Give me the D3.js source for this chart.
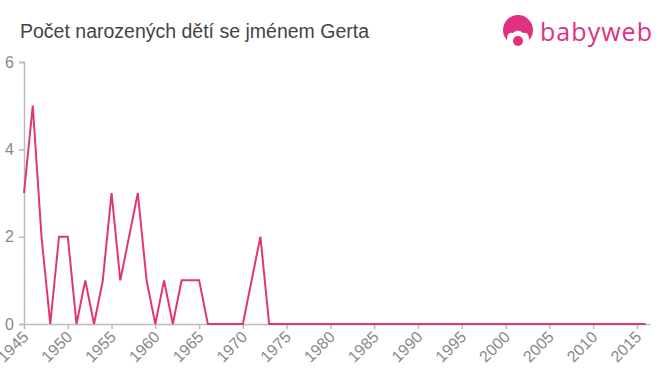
<!DOCTYPE html>
<html>
<head>
<meta charset="utf-8">
<script src="https://cdn.jsdelivr.net/npm/d3@7"></script>
<style>
  body { margin: 0; background: #fff; }
  svg { font-family: "Liberation Sans", Arial, sans-serif; }
</style>
</head>
<body>
<svg id="chart" width="660" height="375"></svg>
<script>
// Chart data
const years = d3.range(1945, 2017);
const counts = [3, 5, 2, 0, 2, 2, 0, 1, 0, 1,
                3, 1, 2, 3, 1, 0, 1, 0, 1, 1,
                1, 0, 0, 0, 0, 0, 1, 2, 0, 0,
                0, 0, 0, 0, 0, 0, 0, 0, 0, 0,
                0, 0, 0, 0, 0, 0, 0, 0, 0, 0,
                0, 0, 0, 0, 0, 0, 0, 0, 0, 0,
                0, 0, 0, 0, 0, 0, 0, 0, 0, 0,
                0, 0];
const xTicks = d3.range(1945, 2016, 5);
const yTicks = [0, 2, 4, 6];
const title = "Počet narozených dětí se jménem Gerta";

const width = 660;
const height = 375;
const margin = {top: 62, right: 10, bottom: 51, left: 24};

const svg = d3.select("#chart");

const x = d3.scaleLinear()
    .domain([1945, 2016.5])
    .range([margin.left, width - margin.right]);

const y = d3.scaleLinear()
    .domain([0, 6])
    .range([height - margin.bottom, margin.top]);

// title
svg.append("text")
    .attr("x", 20)
    .attr("y", 38)
    .attr("font-size", 19.5)
    .attr("fill", "#444")
    .text(title);

// logo
const logo = svg.append("g").attr("transform", "translate(502,14)");
logo.append("circle")
    .attr("cx", 16).attr("cy", 16).attr("r", 15)
    .attr("fill", "#e0307f");
logo.append("path")
    .attr("d", "M5,26 Q5,17 11,19 Q16,14 21,19 Q27,17 27,26 Q24,32 16,32 Q8,32 5,26 Z")
    .attr("fill", "#fff");
logo.append("circle")
    .attr("cx", 16).attr("cy", 27).attr("r", 5)
    .attr("fill", "#e0307f");
logo.append("text")
    .attr("x", 38).attr("y", 27)
    .attr("font-size", 25)
    .attr("font-family", "'Open Sans', sans-serif")
    .attr("textLength", 112)
    .attr("fill", "#e0307f")
    .text("babyweb");

// y axis
const yAxis = svg.append("g")
    .attr("transform", `translate(${margin.left},0)`)
    .call(d3.axisLeft(y).tickValues(yTicks).tickFormat(d3.format("d")).tickSize(5).tickPadding(5));
yAxis.select(".domain").attr("stroke", "#bbb").attr("stroke-width", 1.5);
yAxis.selectAll(".tick line").attr("stroke", "#bbb").attr("stroke-width", 1.5);
yAxis.selectAll(".tick text")
    .attr("fill", "#888")
    .attr("font-size", 16)
    .attr("font-family", "'Liberation Sans', Arial, sans-serif");

// x axis
const xAxis = svg.append("g")
    .attr("transform", `translate(0,${height - margin.bottom})`)
    .call(d3.axisBottom(x).tickValues(xTicks).tickFormat(d3.format("d")).tickSize(5).tickSizeOuter(0));
xAxis.select(".domain").attr("stroke", "#bbb").attr("stroke-width", 1.5);
xAxis.selectAll(".tick line").attr("stroke", "#bbb").attr("stroke-width", 1.5);
xAxis.selectAll(".tick text")
    .attr("fill", "#888")
    .attr("font-size", 16)
    .attr("font-family", "'Liberation Sans', Arial, sans-serif")
    .attr("text-anchor", "end")
    .attr("x", 0)
    .attr("y", 0)
    .attr("dy", 0)
    .attr("transform", "translate(5,14) rotate(-45)");

// line
const line = d3.line()
    .x((d, i) => x(years[i]))
    .y(d => y(d));

svg.append("path")
    .datum(counts)
    .attr("fill", "none")
    .attr("stroke", "#e0386e")
    .attr("stroke-width", 2)
    .attr("d", line);
</script>
</body>
</html>
